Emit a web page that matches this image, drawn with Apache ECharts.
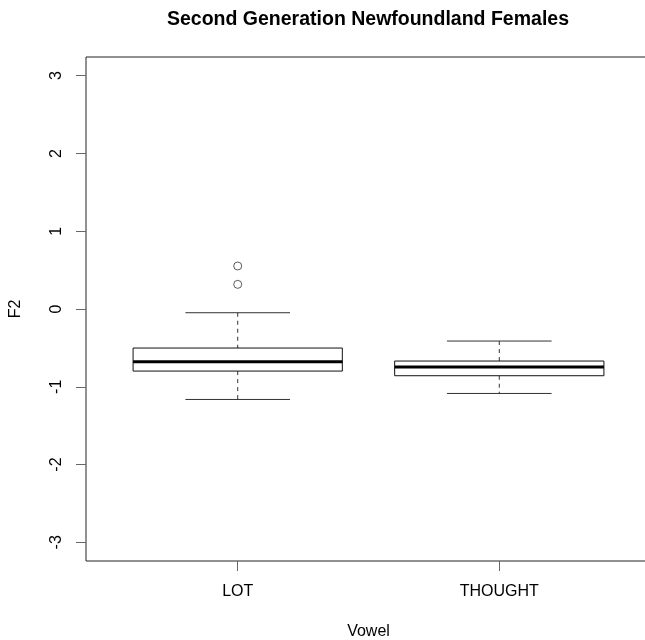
<!DOCTYPE html>
<html>
<head>
<meta charset="utf-8">
<script src="https://cdn.jsdelivr.net/npm/echarts@6/dist/echarts.min.js"></script>
<style>
  html, body { margin: 0; padding: 0; background: #fff; }
  #chart { width: 645px; height: 640px; }
</style>
</head>
<body>
<div id="chart"></div>
<script>
// Vowel groups and their box statistics (F2, normalised)
const categories = ['LOT', 'THOUGHT'];
const whiskerLow = [-1.163, -1.086];
const quartile1 = [-0.798, -0.858];
const medians = [-0.678, -0.746];
const quartile3 = [-0.502, -0.669];
const whiskerHigh = [-0.048, -0.412];
// Outlying points: [group position, value]
const outliers = [[1, 0.553], [1, 0.317]];
const yTicks = [-3, -2, -1, 0, 1, 2, 3];
const xTicks = [1, 2];

const boxRows = categories.map((c, i) => [
  i + 1, whiskerLow[i], quartile1[i], medians[i], quartile3[i], whiskerHigh[i]
]);

const FONT = 'Liberation Sans, Arial, sans-serif';

function renderBox(params, api) {
  const x = api.value(0);
  const lo = api.value(1), q1 = api.value(2), med = api.value(3),
        q3 = api.value(4), hi = api.value(5);
  const halfBox = api.size([0.4, 0])[0];
  const halfCap = api.size([0.2, 0])[0];
  const p = v => api.coord([x, v]);
  const pLo = p(lo), pQ1 = p(q1), pMed = p(med), pQ3 = p(q3), pHi = p(hi);
  const cx = pMed[0];
  const dashStyle = { stroke: '#333', lineWidth: 1, lineDash: [4, 4] };
  const solid = { stroke: '#333', lineWidth: 1 };
  return {
    type: 'group',
    children: [
      { type: 'line', shape: { x1: cx, y1: pHi[1], x2: cx, y2: pQ3[1] }, style: dashStyle },
      { type: 'line', shape: { x1: cx, y1: pQ1[1], x2: cx, y2: pLo[1] }, style: dashStyle },
      { type: 'line', shape: { x1: cx - halfCap, y1: pHi[1], x2: cx + halfCap, y2: pHi[1] }, style: solid },
      { type: 'line', shape: { x1: cx - halfCap, y1: pLo[1], x2: cx + halfCap, y2: pLo[1] }, style: solid },
      { type: 'rect', shape: { x: cx - halfBox, y: pQ3[1], width: 2 * halfBox, height: pQ1[1] - pQ3[1] },
        style: { fill: '#fff', stroke: '#111', lineWidth: 1 } },
      { type: 'line', shape: { x1: cx - halfBox, y1: pMed[1], x2: cx + halfBox, y2: pMed[1] },
        style: { stroke: '#000', lineWidth: 3 } }
    ]
  };
}

const chart = echarts.init(document.getElementById('chart'), null, { renderer: 'canvas' });
chart.setOption({
  backgroundColor: '#fff',
  animation: false,
  title: {
    text: 'Second Generation Newfoundland Females',
    left: 363, top: 5, textAlign: 'center',
    textStyle: { fontFamily: FONT, fontSize: 19.5, fontWeight: 'bold', color: '#000' }
  },
  grid: {
    left: 86, top: 57, width: 565, height: 504,
    outerBoundsMode: 'none', containLabel: false,
    show: true, borderColor: '#222', borderWidth: 1, backgroundColor: 'transparent'
  },
  xAxis: {
    type: 'value', min: 0.42, max: 2.58,
    name: 'Vowel', nameLocation: 'middle', nameGap: 63,
    nameTextStyle: { fontFamily: FONT, fontSize: 16, color: '#000' },
    axisLine: { show: false, onZero: false },
    splitLine: { show: false },
    axisTick: { show: true, customValues: xTicks, length: 10, lineStyle: { color: '#666' } },
    axisLabel: {
      customValues: xTicks, margin: 23,
      fontFamily: FONT, fontSize: 16, color: '#000',
      formatter: v => categories[Math.round(v) - 1] || ''
    }
  },
  yAxis: {
    type: 'value', min: -3.24, max: 3.24,
    name: 'F2', nameLocation: 'middle', nameGap: 62, nameRotate: 90,
    nameTextStyle: { fontFamily: FONT, fontSize: 16, color: '#000' },
    axisLine: { show: false, onZero: false },
    splitLine: { show: false },
    axisTick: { show: true, customValues: yTicks, length: 10, lineStyle: { color: '#666' } },
    axisLabel: {
      customValues: yTicks, rotate: 90, margin: 21,
      fontFamily: FONT, fontSize: 16, color: '#000'
    }
  },
  series: [
    {
      type: 'custom',
      renderItem: renderBox,
      data: boxRows,
      encode: { x: 0, y: [1, 2, 3, 4, 5] },
      clip: false
    },
    {
      type: 'scatter',
      data: outliers,
      symbol: 'circle',
      symbolSize: 8,
      itemStyle: { color: '#fff', borderColor: '#333', borderWidth: 1 }
    }
  ]
});
</script>
</body>
</html>
